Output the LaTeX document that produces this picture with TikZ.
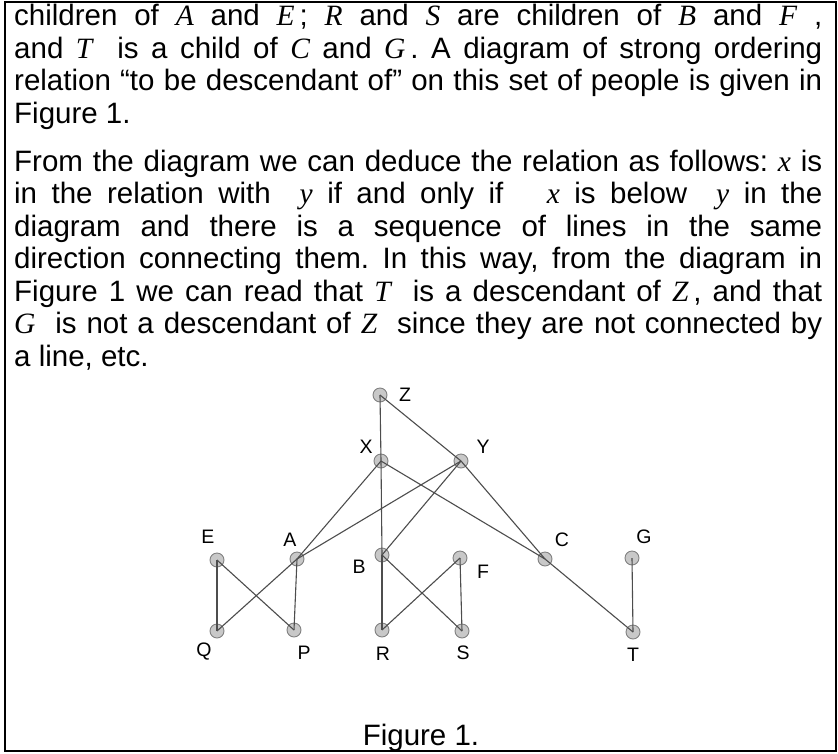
\documentclass[tikz,border=0pt]{standalone}
\usepackage{fontspec}
\setmainfont{Liberation Sans}
\newfontfamily\mathserif{Liberation Serif}
\newcommand{\mv}[1]{{\mathserif\itshape #1}}
\definecolor{vfill}{HTML}{C8C8C8}
\definecolor{vdraw}{HTML}{808080}
\definecolor{edgecol}{HTML}{4D4D4D}
\frenchspacing
\begin{document}
\begin{tikzpicture}[x=1pt,y=-1pt,
  txt/.style={anchor=base west, inner sep=0pt, font=\fontsize{29.5}{32.5}\selectfont},
  vtx/.style={circle, minimum size=14pt, inner sep=0pt, fill=vfill, draw=vdraw, line width=0.9pt},
  lab/.style={inner sep=0pt, font=\fontsize{19.5}{22}\selectfont},
  edge/.style={draw=edgecol, line width=1.1pt}]
\useasboundingbox (0,0) rectangle (838,753);
\draw[line width=2pt] (5,2) rectangle (836,751);

% paragraph 1
\node[txt] (l1) at (14,25.5) {\makebox[808pt][s]{children of \mv{A} and \mv{E}\,; \mv{R} and \mv{S} are children of \mv{B} and \mv{F}\ ,}};
\node[txt] (l2) at (14,58) {\makebox[808pt][s]{and \mv{T} \ is a child of \mv{C} and \mv{G}\,. A diagram of strong ordering}};
\node[txt] (l3) at (14,90.5) {\makebox[808pt][s]{relation “to be descendant of” on this set of people is given in}};
\node[txt] (l4) at (14,123) {Figure 1.};
% paragraph 2
\node[txt] (l5) at (14,171) {\makebox[808pt][s]{From the diagram we can deduce the relation as follows: \mv{x} is}};
\node[txt] (l6) at (14,203.5) {\makebox[808pt][s]{in the relation with \ \mv{y} if and only if \ \ \mv{x} is below \ \mv{y} in the}};
\node[txt] (l7) at (14,236) {\makebox[808pt][s]{diagram and there is a sequence of lines in the same}};
\node[txt] (l8) at (14,268.5) {\makebox[808pt][s]{direction connecting them. In this way, from the diagram in}};
\node[txt] (l9) at (14,301) {\makebox[808pt][s]{Figure 1 we can read that \mv{T} \ is a descendant of \mv{Z}\,, and that}};
\node[txt] (l10) at (14,333.5) {\makebox[808pt][s]{\mv{G} \ is not a descendant of \mv{Z} \ since they are not connected by}};
\node[txt] (l11) at (14,366) {a line, etc.};

% vertices
\node[vtx] (Z) at (380,395) {};
\node[vtx] (X) at (381,461) {};
\node[vtx] (Y) at (461,461) {};
\node[vtx] (E) at (217,560) {};
\node[vtx] (A) at (297,559) {};
\node[vtx] (B) at (382,555) {};
\node[vtx] (F) at (460,558) {};
\node[vtx] (C) at (545,559) {};
\node[vtx] (G) at (632,558) {};
\node[vtx] (Q) at (217,631) {};
\node[vtx] (P) at (294,630) {};
\node[vtx] (R) at (382,630) {};
\node[vtx] (S) at (462,631) {};
\node[vtx] (T) at (633,632) {};

% edges
\path[edge] (Z.center) -- (X.center);
\path[edge] (Z.center) -- (Y.center);
\path[edge] (X.center) -- (B.center);
\path[edge] (X.center) -- (A.center);
\path[edge] (X.center) -- (C.center);
\path[edge] (Y.center) -- (A.center);
\path[edge] (Y.center) -- (B.center);
\path[edge] (Y.center) -- (C.center);
\path[edge] (C.center) -- (T.center);
\path[edge] (G.center) -- (T.center);
\path[edge] (E.center) -- (Q.center);
\path[edge] (E.center) -- (P.center);
\path[edge] (A.center) -- (Q.center);
\path[edge] (A.center) -- (P.center);
\path[edge] (B.center) -- (R.center);
\path[edge] (B.center) -- (S.center);
\path[edge] (F.center) -- (R.center);
\path[edge] (F.center) -- (S.center);

% labels
\node[lab] (lZ) at (405,395) {Z};
\node[lab] (lX) at (366,447) {X};
\node[lab] (lY) at (483,447) {Y};
\node[lab] (lE) at (208,537) {E};
\node[lab] (lA) at (290,540) {A};
\node[lab] (lB) at (359,567) {B};
\node[lab] (lF) at (483,572) {F};
\node[lab] (lC) at (562,540) {C};
\node[lab] (lG) at (644,537) {G};
\node[lab] (lQ) at (204,652) {Q};
\node[lab] (lP) at (304,653) {P};
\node[lab] (lR) at (383,654) {R};
\node[lab] (lS) at (463,653) {S};
\node[lab] (lT) at (633,655) {T};

% caption
\node[anchor=base, inner sep=0pt, font=\fontsize{29.5}{32.5}\selectfont] (cap) at (421,745) {Figure 1.};
\end{tikzpicture}
\end{document}
